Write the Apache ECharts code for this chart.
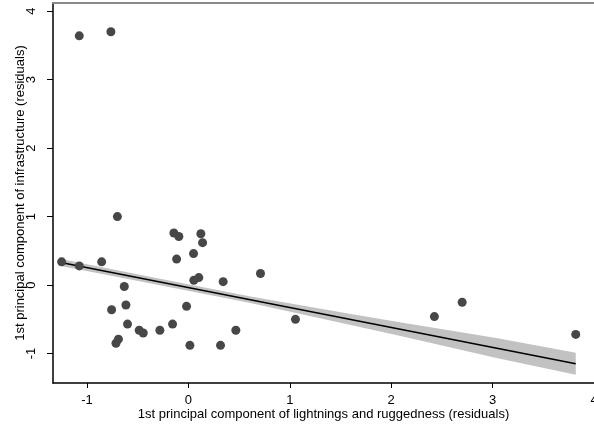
<!DOCTYPE html>
<html>
<head>
<meta charset="utf-8">
<script src="https://cdn.jsdelivr.net/npm/echarts@6/dist/echarts.min.js"></script>
<style>html,body{margin:0;padding:0;background:#fff;}#c{width:594px;height:425px;}</style>
</head>
<body>
<div id="c"></div>
<script>
var pointsX = [-1.076, -0.764, -0.70, -1.25, -1.076, -0.855, -0.632, -0.757, -0.616, -0.60, -0.485, -0.445, -0.281, -0.714, -0.69, -0.156, -0.018, 0.015, 0.317, 0.468, -0.143, -0.094, -0.116, 0.051, 0.123, 0.140, 0.054, 0.103, 0.343, 0.711, 1.056, 2.426, 2.70, 3.82];
var pointsY = [3.64, 3.70, 1.00, 0.34, 0.28, 0.34, -0.02, -0.36, -0.29, -0.57, -0.66, -0.70, -0.66, -0.85, -0.79, -0.57, -0.31, -0.88, -0.88, -0.66, 0.76, 0.71, 0.38, 0.46, 0.75, 0.62, 0.07, 0.11, 0.05, 0.17, -0.50, -0.46, -0.25, -0.72];
var fitX = [-1.27, 3.82];
var fitY = [0.334, -1.148];
var bandX = [-1.27, -0.38, 0.6, 1.59, 2.07, 3.05, 3.82];
var bandUpper = [0.385, 0.122, -0.163, -0.419, -0.540, -0.778, -0.988];
var bandLower = [0.283, 0.028, -0.259, -0.579, -0.736, -1.070, -1.308];
var xTicks = [-1, 0, 1, 2, 3, 4];
var yTicks = [-1, 0, 1, 2, 3, 4];

var font = 'Liberation Sans, Arial, sans-serif';
var chart = echarts.init(document.getElementById('c'), null, {renderer: 'canvas'});
var pts = pointsX.map(function(x, i){ return [x, pointsY[i]]; });
var fit = fitX.map(function(x, i){ return [x, fitY[i]]; });
var bandData = bandX.map(function(x, i){ return [x, bandLower[i], bandUpper[i]]; });

chart.setOption({
  animation: false,
  backgroundColor: '#fff',
  grid: {left: 53, right: 0, top: 3, bottom: 42, containLabel: false, outerBoundsMode: 'none'},
  xAxis: [{
    type: 'value', min: -1.335, max: 4, interval: 1,
    splitLine: {show: false},
    axisLine: {show: true, onZero: false, lineStyle: {color: '#000', width: 1.5}},
    axisTick: {show: true, length: 5, lineStyle: {color: '#000', width: 1}, customValues: xTicks},
    axisLabel: {color: '#000', fontSize: 13, fontFamily: font, margin: 11, customValues: xTicks,
      formatter: function(v){ return v < 0 ? '-' + Math.abs(v) : String(v); }},
    name: '1st principal component of lightnings and ruggedness (residuals)',
    nameLocation: 'middle', nameGap: 25, nameMoveOverlap: false,
    nameTextStyle: {color: '#000', fontSize: 13, fontFamily: font}
  }, {
    type: 'value', position: 'top', min: -1.335, max: 4,
    axisLine: {show: true, onZero: false, lineStyle: {color: '#8a8a8a', width: 2}},
    axisTick: {show: false}, axisLabel: {show: false}, splitLine: {show: false}
  }],
  yAxis: {
    type: 'value', min: -1.43, max: 4.12,
    splitLine: {show: false},
    axisLine: {show: true, onZero: false, lineStyle: {color: '#000', width: 1.5}},
    axisTick: {show: true, length: 6, lineStyle: {color: '#000', width: 1}, customValues: yTicks},
    axisLabel: {color: '#000', fontSize: 13, fontFamily: font, rotate: 90, margin: 15, customValues: yTicks,
      formatter: function(v){ return v < 0 ? '-' + Math.abs(v) : String(v); }},
    name: '1st principal component of infrastructure (residuals)',
    nameLocation: 'middle', nameGap: 26, nameMoveOverlap: false,
    nameTextStyle: {color: '#000', fontSize: 13, fontFamily: font}
  },
  series: [{
    type: 'custom',
    data: bandData,
    encode: {x: 0, y: [1, 2]},
    renderItem: function(params, api){
      if (params.dataIndex !== 0) return null;
      var up = [], lo = [];
      for (var i = 0; i < bandData.length; i++) {
        up.push(api.coord([bandData[i][0], bandData[i][2]]));
        lo.unshift(api.coord([bandData[i][0], bandData[i][1]]));
      }
      return {type: 'polygon', shape: {points: up.concat(lo)}, style: {fill: '#c2c2c2'}, silent: true};
    },
    z: 1
  }, {
    type: 'line', data: fit, symbol: 'none',
    lineStyle: {color: '#000', width: 1.6}, z: 2
  }, {
    type: 'scatter', data: pts, symbol: 'circle', symbolSize: 9,
    itemStyle: {color: '#474747', opacity: 1}, z: 3
  }]
});
</script>
</body>
</html>
